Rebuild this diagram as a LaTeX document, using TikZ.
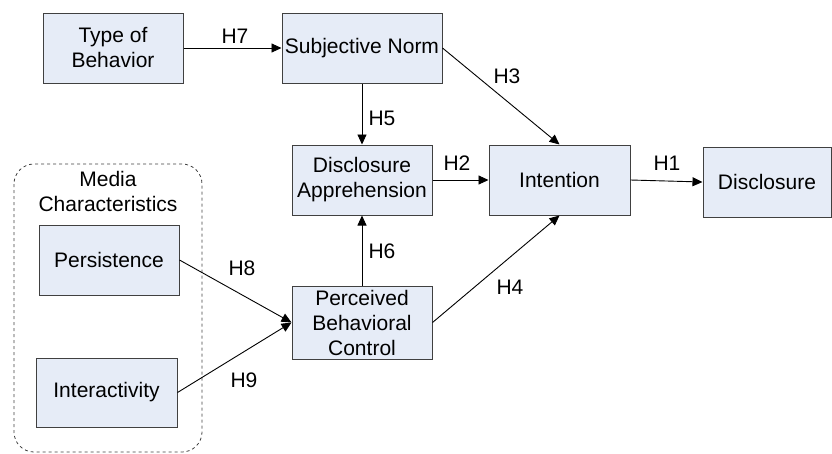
\documentclass[tikz,border=0pt]{standalone}
\usepackage{fontspec}
\setmainfont{Liberation Sans}
\usetikzlibrary{arrows.meta}
\definecolor{boxfill}{HTML}{E6ECF7}
\definecolor{boxline}{HTML}{404040}
\begin{document}
\begin{tikzpicture}[x=1pt,y=-1pt,
  font=\fontsize{21}{25}\selectfont,
  box/.style={draw=boxline,fill=boxfill,line width=1pt,inner sep=0pt,align=center},
  arr/.style={draw=black,line width=0.9pt,-{Triangle[length=10pt,width=9pt]}},
  lbl/.style={inner sep=0pt}]
\useasboundingbox (0,0) rectangle (832,453);
% grouping frame for the media characteristics
\draw[boxline,dashed,line width=0.8pt,rounded corners=20pt] (14,164) rectangle (202,452);
\node[lbl,align=center] (media) at (108,191) {Media\\Characteristics};
% constructs
\node[box,minimum width=140pt,minimum height=70pt] (tob) at (113,48) {Type of\\Behavior};
\node[box,minimum width=160pt,minimum height=70pt] (sn) at (362,48) {Subjective Norm};
\node[box,minimum width=140pt,minimum height=70pt] (da) at (362,180) {Disclosure\\Apprehension};
\node[box,minimum width=141pt,minimum height=70pt] (int) at (559.5,180) {Intention};
\node[box,minimum width=128pt,minimum height=70pt] (dis) at (767,182) {Disclosure};
\node[box,minimum width=140pt,minimum height=70pt] (per) at (109,260) {Persistence};
\node[box,minimum width=141pt,minimum height=69pt] (inter) at (106.5,392.5) {Interactivity};
\node[box,minimum width=140pt,minimum height=73pt] (pbc) at (362,322.5) {Perceived\\Behavioral\\Control};
% hypothesised paths
\draw[arr] (tob) -- (sn);
\draw[arr] (sn.east) -- (int.north);
\draw[arr] (sn) -- (da);
\draw[arr] (da) -- (int);
\draw[arr] (int.east) -- (dis.west);
\draw[arr] (pbc) -- (da);
\draw[arr] (pbc.east) -- (int.south);
\draw[arr] (per.east) -- (pbc.west);
\draw[arr] (inter.east) -- (pbc.west);
% path labels
\node[lbl] (h7) at (235,36) {H7};
\node[lbl] (h3) at (507,76) {H3};
\node[lbl] (h5) at (382,118) {H5};
\node[lbl] (h2) at (457,163) {H2};
\node[lbl] (h1) at (667,163) {H1};
\node[lbl] (h6) at (382,251) {H6};
\node[lbl] (h4) at (510,287) {H4};
\node[lbl] (h8) at (242,268) {H8};
\node[lbl] (h9) at (244,380) {H9};
\end{tikzpicture}
\end{document}
